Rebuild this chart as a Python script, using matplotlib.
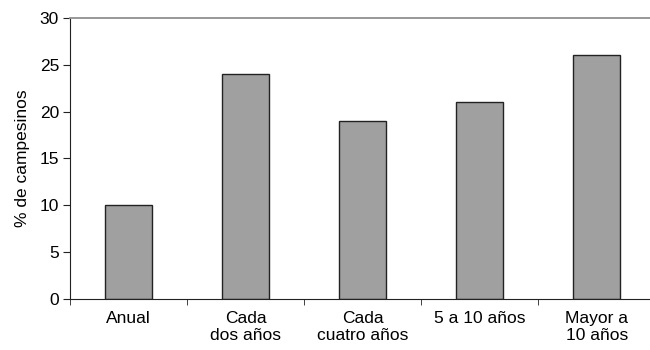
import matplotlib
matplotlib.use('Agg')
import matplotlib.pyplot as plt
import numpy as np

plt.rcParams['font.family'] = ['Liberation Sans', 'DejaVu Sans']

categories = ['Anual', 'Cada\ndos años', 'Cada\ncuatro años', '5 a 10 años', 'Mayor a\n10 años']
values = [10, 24, 19, 21, 26]

fig = plt.figure(figsize=(6.5, 3.5), dpi=100)
ax = fig.add_axes([0.108, 0.146, 0.9, 0.803])

x = np.arange(len(categories))
ax.bar(x, values, width=0.4, color='#a0a0a0', edgecolor='#222222', linewidth=1)

ax.set_xlim(-0.5, len(categories) - 0.5)
ax.set_ylim(0, 30)
ax.set_yticks(range(0, 31, 5))
ax.set_xticks(x)
ax.set_xticklabels(categories, fontsize=12.5, va='top', linespacing=1.1)
ax.set_xticks(np.arange(-0.5, len(categories), 1), minor=True)
ax.tick_params(axis='x', which='major', length=0, pad=9)
ax.tick_params(axis='x', which='minor', length=4, direction='out', color='#222222')
ax.tick_params(axis='y', length=5, direction='out', labelsize=12.5, color='#222222', pad=3)
ax.set_ylabel('% de campesinos', fontsize=12.5, labelpad=7)

ax.spines['right'].set_visible(False)
ax.spines['top'].set_color('#909090')
ax.spines['top'].set_linewidth(1.3)
ax.spines['left'].set_color('#222222')
ax.spines['bottom'].set_color('#222222')

plt.savefig('out.png', dpi=100)
plt.close()
